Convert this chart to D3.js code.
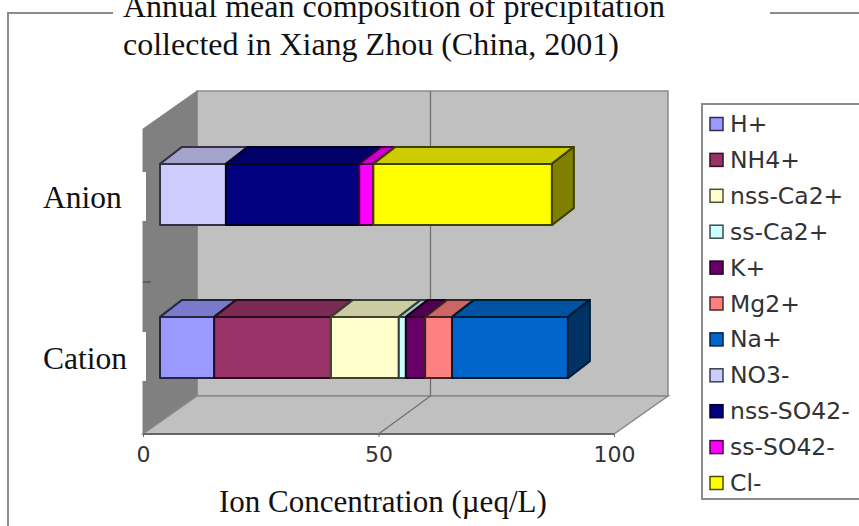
<!DOCTYPE html>
<html>
<head>
<meta charset="utf-8">
<script src="https://cdn.jsdelivr.net/npm/d3@7"></script>
<style>
  html, body { margin: 0; padding: 0; background: #fff; overflow: hidden; }
  svg { display: block; }
  .serif { font-family: "Liberation Serif", serif; fill: #111; }
  .sans { font-family: "DejaVu Sans", sans-serif; fill: #333; }
</style>
</head>
<body>
<svg id="chart" width="859" height="526"></svg>
<script>
'use strict';

const categories = ['Anion', 'Cation'];
const ions = ['H+', 'NH4+', 'nss-Ca2+', 'ss-Ca2+', 'K+', 'Mg2+', 'Na+', 'NO3-', 'nss-SO42-', 'ss-SO42-', 'Cl-'];
const ionColors = ['#9999ff', '#993366', '#ffffcc', '#ccffff', '#660066', '#ff8080', '#0066cc', '#ccccff', '#000080', '#ff00ff', '#ffff00'];
const anionValues = [0, 0, 0, 0, 0, 0, 0, 14.0, 28.3, 3.0, 37.9];
const cationValues = [11.5, 24.8, 14.4, 1.5, 4.1, 5.7, 24.6, 0, 0, 0, 0];
const xTicks = [0, 50, 100];
const titleLines = ['Annual mean composition of precipitation', 'collected in Xiang Zhou (China, 2001)'];
const xTitle = 'Ion Concentration (\u00b5eq/L)';

const svg = d3.select('#chart');

// the source is a soft jpeg, so take the edge off the marks
svg.append('defs').append('filter').attr('id', 'soft')
  .append('feGaussianBlur').attr('stdDeviation', 0.5);

// excel style fake 3d: back wall is the front plane pushed by (wallDx, wallDy)
const wallDx = 54, wallDy = -38;
// bars sit part way in, and have their own depth
const barInX = 17;
const barDx = 22, barDy = -17;

const x = d3.scaleLinear().domain([0, 100]).range([143, 614]);
const y = d3.scaleBand().domain(categories).range([118, 424]).paddingInner(0.6).paddingOuter(0.3);
const floorY = 434, planeTop = 129;

const poly = pts => pts.map(p => p.join(',')).join(' ');

// frame, broken by the title
svg.append('path')
  .attr('d', 'M113,13H8V526M770,13H859')
  .attr('fill', 'none').attr('stroke', '#8c8c8c').attr('stroke-width', 2);

// walls
const walls = svg.append('g').attr('filter', 'url(#soft)');
walls.append('polygon') // back
  .attr('points', poly([[x(0) + wallDx, planeTop + wallDy], [x(100) + wallDx, planeTop + wallDy], [x(100) + wallDx, floorY + wallDy], [x(0) + wallDx, floorY + wallDy]]))
  .attr('fill', '#c0c0c0').attr('stroke', '#8a8a8a').attr('stroke-width', 1.5);
walls.append('polygon') // left
  .attr('points', poly([[x(0), planeTop], [x(0) + wallDx, planeTop + wallDy], [x(0) + wallDx, floorY + wallDy], [x(0), floorY]]))
  .attr('fill', '#808080').attr('stroke', '#808080');
walls.append('polygon') // floor
  .attr('points', poly([[x(0), floorY], [x(0) + wallDx, floorY + wallDy], [x(100) + wallDx, floorY + wallDy], [x(100), floorY]]))
  .attr('fill', '#c0c0c0').attr('stroke', '#8a8a8a').attr('stroke-width', 1.5);
walls.append('line')
  .attr('x1', x(0)).attr('x2', x(100)).attr('y1', floorY).attr('y2', floorY)
  .attr('stroke', '#666').attr('stroke-width', 2);

// gridline at 50, up the wall and across the floor
xTicks.slice(1, 2).forEach(t => {
  walls.append('polyline')
    .attr('points', poly([[x(t) + wallDx - 2, planeTop + wallDy], [x(t) + wallDx - 2, floorY + wallDy], [x(t), floorY]]))
    .attr('fill', 'none').attr('stroke', '#707070').attr('stroke-width', 1.3);
});

// category divider tick on the left wall
walls.append('line')
  .attr('x1', x(0)).attr('x2', x(0) + 8).attr('y1', 282).attr('y2', 282)
  .attr('stroke', '#555').attr('stroke-width', 1.5);

// stacked bars
const rows = categories.map((c, i) => {
  const vals = i === 0 ? anionValues : cationValues;
  const row = { category: c };
  ions.forEach((ion, j) => { row[ion] = vals[j]; });
  return row;
});
const stacked = d3.stack().keys(ions)(rows);
const color = d3.scaleOrdinal().domain(ions).range(ionColors);
const shade = (c, k) => { const r = d3.rgb(c); return d3.rgb(r.r * k, r.g * k, r.b * k).formatHex(); };

const bars = svg.append('g').attr('filter', 'url(#soft)')
  .attr('stroke-width', 2).attr('stroke-linejoin', 'round');
categories.forEach((cat, ci) => {
  const y0 = y(cat), h = y.bandwidth();
  const segs = stacked.map(s => ({ key: s.key, a: s[ci][0], b: s[ci][1] })).filter(d => d.b > d.a);
  const left = d => x(d.a) + barInX, right = d => x(d.b) + barInX;
  const g = bars.append('g');

  g.selectAll('polygon.top').data(segs).join('polygon')
    .attr('class', 'top')
    .attr('points', d => poly([[left(d), y0], [left(d) + barDx, y0 + barDy], [right(d) + barDx, y0 + barDy], [right(d), y0]]))
    .attr('fill', d => shade(color(d.key), 0.8))
    .attr('stroke', d => shade(color(d.key), 0.25));

  const last = segs[segs.length - 1];
  g.append('polygon')
    .attr('points', poly([[right(last), y0], [right(last) + barDx, y0 + barDy], [right(last) + barDx, y0 + h + barDy], [right(last), y0 + h]]))
    .attr('fill', shade(color(last.key), 0.5))
    .attr('stroke', shade(color(last.key), 0.25));

  g.selectAll('rect').data(segs).join('rect')
    .attr('x', left).attr('y', y0)
    .attr('width', d => right(d) - left(d)).attr('height', h)
    .attr('fill', d => color(d.key))
    .attr('stroke', d => shade(color(d.key), 0.25));
});

// x axis labels
const xAxis = d3.axisBottom(x).tickValues(xTicks).tickSize(3).tickPadding(9);
const axisG = svg.append('g').attr('transform', `translate(0,${floorY})`).call(xAxis);
axisG.select('.domain').remove();
axisG.selectAll('.tick line').attr('stroke', '#666');
axisG.selectAll('text').attr('class', 'sans').attr('font-size', 22).attr('fill', '#333');

// category labels sit in white boxes pasted over the left wall
const labelBoxes = [[172, 49], [332, 49]];
const labelBase = [208, 369];
categories.forEach((c, i) => {
  svg.append('rect')
    .attr('x', 30).attr('y', labelBoxes[i][0]).attr('width', 116).attr('height', labelBoxes[i][1])
    .attr('fill', '#fff');
  svg.append('text').attr('class', 'serif')
    .attr('x', 43).attr('y', labelBase[i])
    .attr('font-size', 31.5).text(c);
});

// titles
titleLines.forEach((t, i) => {
  svg.append('text').attr('class', 'serif')
    .attr('x', 123).attr('y', 17 + i * 38)
    .attr('font-size', 32).text(t);
});
svg.append('text').attr('class', 'serif')
  .attr('x', 219).attr('y', 512)
  .attr('font-size', 31).text(xTitle);

// legend, cut off by the right edge
svg.append('rect')
  .attr('x', 702).attr('y', 104).attr('width', 180).attr('height', 395)
  .attr('fill', '#fff').attr('stroke', '#8c8c8c').attr('stroke-width', 2);
const legY = d3.scalePoint().domain(ions).range([124, 483]);
const legend = svg.append('g').selectAll('g').data(ions).join('g')
  .attr('transform', d => `translate(710,${legY(d)})`);
legend.append('rect')
  .attr('x', 0).attr('y', -6.5).attr('width', 13).attr('height', 13)
  .attr('fill', d => color(d))
  .attr('stroke', d => shade(color(d), 0.3)).attr('stroke-width', 1.5);
legend.append('text').attr('class', 'sans')
  .attr('x', 20).attr('y', 8)
  .attr('font-size', 23.5).text(d => d);
</script>
</body>
</html>
